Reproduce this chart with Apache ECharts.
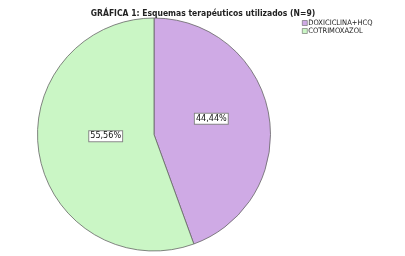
<!DOCTYPE html>
<html><head><meta charset="utf-8">
<script src="https://cdn.jsdelivr.net/npm/echarts@6/dist/echarts.min.js"></script>
<style>html,body{margin:0;padding:0;background:#fff}#c{width:405px;height:256px}</style>
</head><body><div id="c"></div>
<script>
var categories = ['DOXICICLINA+HCQ', 'COTRIMOXAZOL'];
var counts = [4, 5];
var colors = ['#cfaae5', '#caf6c5'];
var titleText = 'GRÁFICA 1: Esquemas terapéuticos utilizados (N=9)';

var chart = echarts.init(document.getElementById('c'), null, {renderer: 'canvas'});
var labelShift = [[-3, -5], [12, -9]];
chart.setOption({
  animation: false,
  title: {
    text: titleText, left: 203, top: 9, textAlign: 'center', padding: 0,
    textStyle: {fontSize: 8.5, fontWeight: 'bold', color: '#222', fontFamily: 'DejaVu Sans Condensed'}
  },
  legend: {
    orient: 'vertical', left: 302, top: 19, itemWidth: 5, itemHeight: 5, itemGap: 0, padding: 0,
    icon: 'rect', data: categories,
    itemStyle: {borderColor: '#666', borderWidth: 0.6},
    textStyle: {fontSize: 7.5, lineHeight: 8, color: '#222', padding: [0, 0, 0, -4], fontFamily: 'DejaVu Sans Condensed'}
  },
  series: [{
    type: 'pie', center: [154, 134.5], radius: [0, 116.5], startAngle: 90, clockwise: true,
    data: categories.map(function (c, i) { return {name: c, value: counts[i], itemStyle: {color: colors[i]}}; }),
    itemStyle: {borderColor: '#666', borderWidth: 0.8},
    label: {
      position: 'inner', fontSize: 9, color: '#111', fontFamily: 'DejaVu Sans Condensed',
      backgroundColor: '#fff', borderColor: '#888', borderWidth: 1, padding: [1, 1, 0, 1],
      formatter: function (p) { return p.percent.toFixed(2).replace('.', ',') + '%'; }
    },
    percentPrecision: 2,
    labelLayout: function (p) { return {dx: labelShift[p.dataIndex][0], dy: labelShift[p.dataIndex][1]}; },
    emphasis: {disabled: true}
  }]
});
</script></body></html>
